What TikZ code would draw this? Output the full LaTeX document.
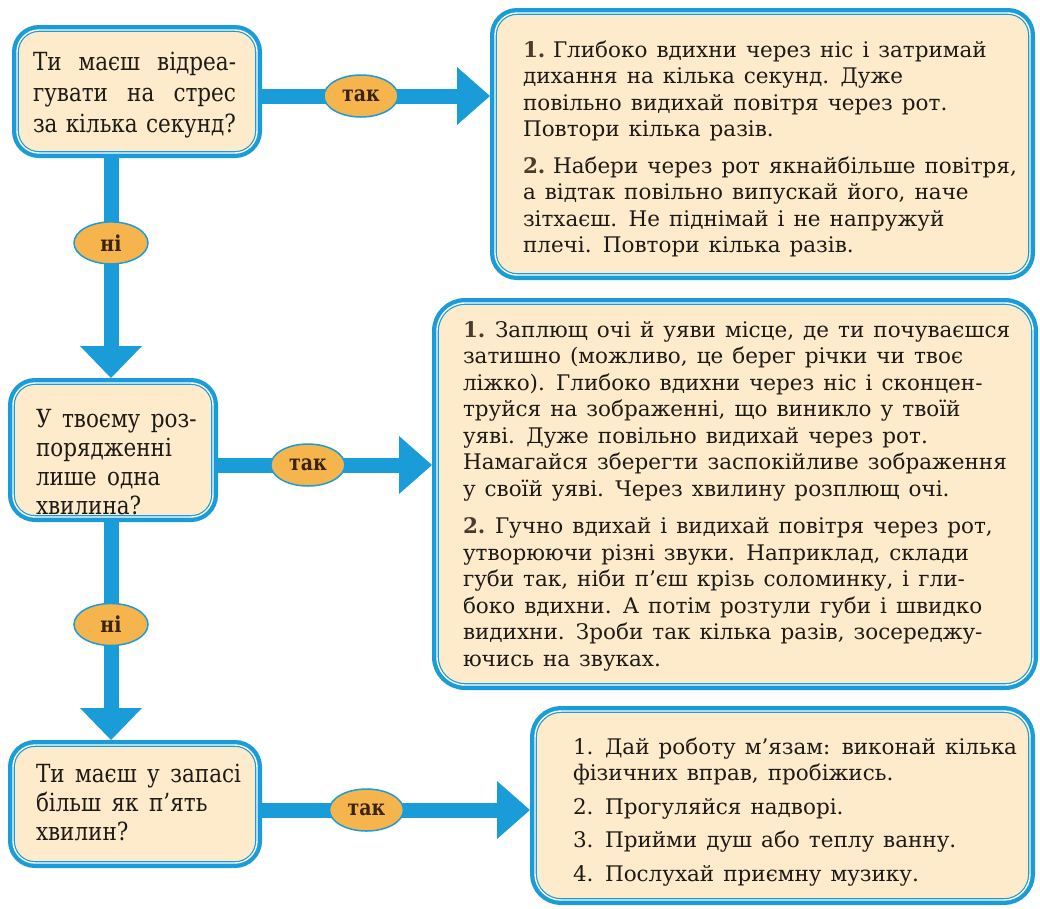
\documentclass[tikz,border=0pt]{standalone}
\usepackage{fontspec}
\setmainfont{DejaVu Serif}
\newfontfamily\lftfam{DejaVu Serif}[FakeStretch=0.86]
\usetikzlibrary{shapes.geometric,arrows.meta}
\definecolor{bblue}{HTML}{1A9CD9}
\definecolor{beige}{HTML}{FDEBCC}
\definecolor{lorange}{HTML}{F5B54C}
\definecolor{txt}{HTML}{1E1A16}
\definecolor{numc}{HTML}{4A3B2C}
\definecolor{lbltxt}{HTML}{3A2410}
\newcommand\lftfont[1]{\lftfam\fontsize{25}{#1}\selectfont\spaceskip=0.42em plus 0.2em minus 0.1em\relax}
\newcommand\rgtfont{\fontsize{21.5}{26.5}\selectfont\spaceskip=0.42em plus 0.1em minus 0.05em\relax}
\newcommand\myitem[2]{\par\noindent\hangindent=#1\hangafter=1\makebox[#1][l]{#2}\ignorespaces}
\newcommand\numb[1]{\textcolor{numc}{\bfseries #1}}
\begin{document}
\begin{tikzpicture}[x=1pt,y=-1pt,
  box/.style={draw=bblue, line width=1.2pt, double=white, double distance=1.4pt,
    fill=beige, preaction={draw=bblue, line width=10pt}, rounded corners=#1,
    inner sep=0pt, outer sep=5pt},
  box/.default=22pt,
  txtnode/.style={anchor=base west, inner sep=0pt, outer sep=0pt, text=txt},
  flow/.style={draw=bblue, line width=15pt,
    -{Triangle[width=58pt,length=33pt,line width=0pt]}},
  vflow/.style={flow, -{Triangle[width=62pt,length=32pt,line width=0pt]}},
  lbl/.style={ellipse, draw=bblue, line width=1.5pt, fill=lorange,
    minimum width=74pt, minimum height=42pt, inner sep=0pt,
    font=\lftfam\fontsize{22}{24}\selectfont\bfseries, text=lbltxt}]
\fill[white] (0,0) rectangle (1040,908);
\useasboundingbox (0,0) rectangle (1040,908);

% boxes
\node[box, minimum width=240pt, minimum height=123pt] (b1) at (137,91.5) {};
\node[box, minimum width=535pt, minimum height=262pt] (b2) at (762.5,144) {};
\node[box, minimum width=200pt, minimum height=134pt] (b3) at (113,450) {};
\node[box=28pt, minimum width=596pt, minimum height=382pt] (b4) at (735,494) {};
\node[box, minimum width=244pt, minimum height=118pt] (b5) at (135,804) {};
\node[box=26pt, minimum width=495pt, minimum height=189pt] (b6) at (782.5,805.5) {};

% helper coordinates
\coordinate (v) at (111,0);
\coordinate (a1) at ([yshift=-4.5pt]b1.east);
\coordinate (a2) at ([yshift=-15pt]b3.east);
\coordinate (a3) at ([yshift=-6pt]b5.east);

% connectors
\draw[flow] (a1) -- (a1 -| b2.west) node[lbl, pos=0.434] (l1) {так};
\draw[flow] (a2) -- (a2 -| b4.west) node[lbl, pos=0.42] (l3) {так};
\draw[flow] (a3) -- (a3 -| b6.west) node[lbl, pos=0.39] (l5) {так};
\draw[vflow] (b1.south -| v) -- (b3.north -| v) node[lbl, pos=0.386] (l2) {ні};
\draw[vflow] (b3.south -| v) -- (b5.north -| v) node[lbl, pos=0.47] (l4) {ні};

% texts
\node[txtnode] (t1) at (33,70) {\parbox[t]{203pt}{\lftfont{31}
  \makebox[203pt][s]{Ти маєш відреа-}\\
  \makebox[203pt][s]{гувати на стрес}\\
  \makebox[203pt][s]{за кілька секунд?}}};

\node[txtnode] (t3) at (36,427) {\parbox[t]{175pt}{\lftfont{29}\raggedright
  У твоєму роз-\\ порядженні\\ лише одна\\ хвилина?}};

\node[txtnode] (t5) at (36,782) {\parbox[t]{215pt}{\lftfont{29}\raggedright
  Ти маєш у запасі\\ більш як п’ять\\ хвилин?}};

\node[txtnode] (t2) at (523,57) {\parbox[t]{500pt}{\rgtfont\raggedright
  \myitem{30pt}{\numb{1.}}Глибоко вдихни через ніс і затримай\\
  дихання на кілька секунд. Дуже\\
  повільно видихай повітря через рот.\\
  Повтори кілька разів.\par\vspace{10pt}
  \myitem{30pt}{\numb{2.}}Набери через рот якнайбільше повітря,\\
  а відтак повільно випускай його, наче\\
  зітхаєш. Не піднімай і не напружуй\\
  плечі. Повтори кілька разів.}};

\node[txtnode] (t4) at (463,337) {\parbox[t]{570pt}{\rgtfont\raggedright
  \myitem{32pt}{\numb{1.}}Заплющ очі й уяви місце, де ти почуваєшся\\
  затишно (можливо, це берег річки чи твоє\\
  ліжко). Глибоко вдихни через ніс і сконцен-\\
  труйся на зображенні, що виникло у твоїй\\
  уяві. Дуже повільно видихай через рот.\\
  Намагайся зберегти заспокійливе зображення\\
  у своїй уяві. Через хвилину розплющ очі.\par\vspace{11pt}
  \myitem{32pt}{\numb{2.}}Гучно вдихай і видихай повітря через рот,\\
  утворюючи різні звуки. Наприклад, склади\\
  губи так, ніби п’єш крізь соломинку, і гли-\\
  боко вдихни. А потім розтули губи і швидко\\
  видихни. Зроби так кілька разів, зосереджу-\\
  ючись на звуках.}};

\node[txtnode] (t6) at (573,754) {\parbox[t]{455pt}{\rgtfont\raggedright
  \myitem{32pt}{1.}Дай роботу м’язам: виконай кілька\\
  фізичних вправ, пробіжись.\par\vspace{7pt}
  \myitem{32pt}{2.}Прогуляйся надворі.\par\vspace{7pt}
  \myitem{32pt}{3.}Прийми душ або теплу ванну.\par\vspace{7pt}
  \myitem{32pt}{4.}Послухай приємну музику.}};
\end{tikzpicture}
\end{document}
